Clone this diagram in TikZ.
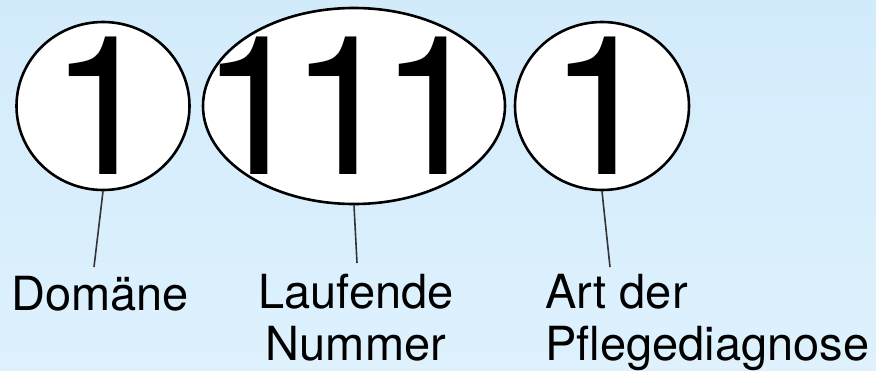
\documentclass[tikz,border=0pt]{standalone}
\usepackage{fontspec}
\setmainfont{TeX Gyre Heros}
\usetikzlibrary{shapes.geometric}
\definecolor{skytop}{RGB}{210,235,251}
\definecolor{skybot}{RGB}{222,241,253}
% digits of the number, kept out of the shape size
\newcommand{\numtxt}[1]{\makebox[0pt]{\smash{\raisebox{-68.5pt}{#1}}}}
\begin{document}
\begin{tikzpicture}[
	x=1pt, y=-1pt,
	digit/.style={ ellipse, draw=black, line width=2.6pt, fill=white, inner sep=0pt, font=\fontsize{194}{194}\selectfont },
	caption/.style={ inner sep=0pt, font=\fontsize{47}{52}\selectfont },
	pointer/.style={ draw=black!80, line width=1.6pt }
]

% background
\fill[top color=skytop, bottom color=skybot] (0,0) rectangle (876,370);
\useasboundingbox (0,0) rectangle (876,370);

\node at (103,106) (dom) [digit,minimum width=173pt,minimum height=168pt] {\numtxt{1}};
\node at (354,106) (lfd) [digit,minimum width=302pt,minimum height=196pt] {\numtxt{1\kern-18.5pt1\kern-18.5pt1\kern21pt}};
\node at (602,106) (art) [digit,minimum width=174pt,minimum height=168pt] {\numtxt{1}};

\node at (11,310) (domlbl) [caption,anchor=base west] {Domäne};
\node at (356,360) (lfdlbl) [caption,anchor=base,align=center] {Laufende\\Nummer};
\node at (545,360) (artlbl) [caption,anchor=base west,align=left] {Art der\\Pflegediagnose};

\coordinate (domend) at (94,267);
\coordinate (lfdend) at (357,263);
\coordinate (artend) at (610,267);
\draw[pointer] (dom.south) -- (domend);
\draw[pointer] (lfd.south) -- (lfdend);
\draw[pointer] (art.south) -- (artend);

\end{tikzpicture}
\end{document}
